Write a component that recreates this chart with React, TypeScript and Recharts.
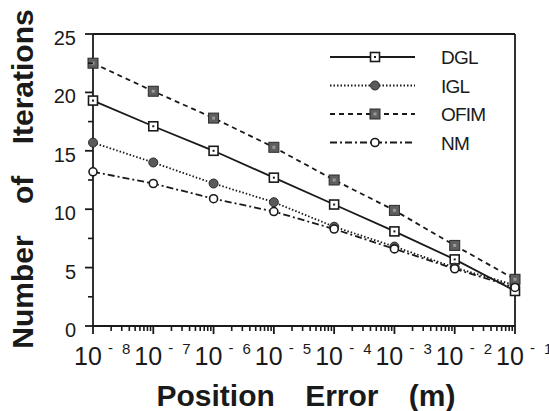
import React from "react";
import { LineChart, Line, XAxis, YAxis, ReferenceLine } from "recharts";

// position error (m), one decade apart
const positionErrors = [1e-8, 1e-7, 1e-6, 1e-5, 1e-4, 1e-3, 1e-2, 1e-1];
const exponentLabels = ["-8", "-7", "-6", "-5", "-4", "-3", "-2", "-1"];

const dglValues = [19.3, 17.1, 15.0, 12.7, 10.4, 8.1, 5.7, 3.0];
const iglValues = [15.7, 14.0, 12.2, 10.6, 8.5, 6.8, 5.0, 3.5];
const ofimValues = [22.5, 20.1, 17.8, 15.3, 12.5, 9.9, 6.9, 4.0];
const nmValues = [13.2, 12.2, 10.9, 9.8, 8.3, 6.6, 4.9, 3.3];

const yTickValues = [0, 2.5, 5, 7.5, 10, 12.5, 15, 17.5, 20, 22.5, 25];

const data = positionErrors.map((err, i) => ({
  err,
  DGL: dglValues[i],
  IGL: iglValues[i],
  OFIM: ofimValues[i],
  NM: nmValues[i],
}));

// decade ticks plus the 2..9 minor ticks in between
const xTickValues: number[] = [];
positionErrors.forEach((p, i) => {
  if (i === positionErrors.length - 1) {
    xTickValues.push(p);
    return;
  }
  for (let k = 1; k <= 9; k++) xTickValues.push(k * p);
});

const FONT = "'Liberation Sans', Arial, Helvetica, sans-serif";
const INK = "#1a1a1a";

const OpenSquare = ({ cx, cy }: any) => (
  <g>
    <rect x={cx - 4.5} y={cy - 4.5} width={9} height={9} fill="#fff" stroke={INK} strokeWidth={1.6} />
    <rect x={cx - 1} y={cy - 1} width={2} height={2} fill={INK} />
  </g>
);
const GreyCircle = ({ cx, cy }: any) => (
  <circle cx={cx} cy={cy} r={4.5} fill="#5a5a5a" stroke="#2a2a2a" strokeWidth={1} />
);
const GreySquare = ({ cx, cy }: any) => (
  <g>
    <rect x={cx - 5} y={cy - 5} width={10} height={10} fill="#5f5f5f" stroke="#2a2a2a" strokeWidth={1} />
    <rect x={cx - 1.5} y={cy - 1.5} width={3} height={3} fill="#999" />
  </g>
);
const OpenCircle = ({ cx, cy }: any) => (
  <circle cx={cx} cy={cy} r={4} fill="#fff" stroke={INK} strokeWidth={1.6} />
);

const seriesList = [
  { key: "DGL", dash: undefined as string | undefined, Marker: OpenSquare },
  { key: "IGL", dash: "1.5 2", Marker: GreyCircle },
  { key: "OFIM", dash: "5 4", Marker: GreySquare },
  { key: "NM", dash: "7 3 2 3", Marker: OpenCircle },
];

const XTick = ({ x, y, payload }: any) => {
  const v = payload.value;
  const e = Math.round(Math.log10(v));
  const major = Math.abs(Math.log10(v) - e) < 1e-6;
  if (!major) {
    return <line x1={x} y1={y} x2={x} y2={y + 5} stroke={INK} strokeWidth={1.6} />;
  }
  const idx = positionErrors.findIndex((p) => Math.abs(Math.log10(p) - e) < 1e-6);
  const exp = exponentLabels[idx];
  return (
    <g fontFamily={FONT} fill={INK}>
      <line x1={x} y1={y} x2={x} y2={y + 8} stroke={INK} strokeWidth={1.8} />
      <text x={x - 19} y={y + 39} fontSize={25}>10</text>
      <text x={x + 15} y={y + 27} fontSize={15}>-</text>
      <text x={x + 29} y={y + 28} fontSize={15}>{exp.replace("-", "")}</text>
    </g>
  );
};

const YTick = ({ x, y, payload }: any) => {
  const v = payload.value;
  const major = v % 5 === 0;
  if (!major) {
    return <line x1={x - 5} y1={y} x2={x} y2={y} stroke={INK} strokeWidth={1.6} />;
  }
  return (
    <g fontFamily={FONT} fill={INK}>
      <line x1={x - 8} y1={y} x2={x} y2={y} stroke={INK} strokeWidth={1.8} />
      <text x={x - 17} y={y + 11} fontSize={20} textAnchor="end">{v}</text>
    </g>
  );
};

const LegendBox = () => (
  <svg width={200} height={130} style={{ position: "absolute", left: 330, top: 40, overflow: "visible" }}>
    {seriesList.map((s, i) => {
      const y = 17 + i * 28.5;
      const { Marker } = s;
      return (
        <g key={s.key}>
          <line x1={0} y1={y} x2={85} y2={y} stroke={INK} strokeWidth={1.8} strokeDasharray={s.dash} />
          <Marker cx={45} cy={y} />
          <text x={111} y={y + 7} fontFamily={FONT} fontSize={19} letterSpacing={-0.8} fill={INK}>
            {s.key}
          </text>
        </g>
      );
    })}
  </svg>
);

export default function App() {
  return (
    <div style={{ position: "absolute", left: 0, top: 0, width: 549, height: 411, background: "#fff" }}>
      <LineChart
        width={549}
        height={411}
        data={data}
        margin={{ top: 34, right: 34, bottom: 35, left: 33 }}
      >
        <XAxis
          dataKey="err"
          type="number"
          scale="log"
          domain={[1e-8, 1e-1]}
          ticks={xTickValues}
          interval={0}
          tick={<XTick />}
          tickLine={false}
          tickSize={0}
          tickMargin={0}
          height={50}
          axisLine={{ stroke: INK, strokeWidth: 1.8 }}
          label={{
            content: () => (
              <text
                x={306}
                y={406}
                textAnchor="middle"
                fontFamily={FONT}
                fontWeight="bold"
                fontSize={30}
                wordSpacing={22}
                fill={INK}
              >
                Position Error (m)
              </text>
            ),
          }}
        />
        <YAxis
          type="number"
          domain={[0, 25]}
          ticks={yTickValues}
          interval={0}
          tick={<YTick />}
          tickLine={false}
          tickSize={0}
          tickMargin={0}
          width={60}
          axisLine={{ stroke: INK, strokeWidth: 1.8 }}
          label={{
            content: () => (
              <text
                transform="translate(33,179) rotate(-90)"
                textAnchor="middle"
                fontFamily={FONT}
                fontWeight="bold"
                fontSize={30}
                wordSpacing={23}
                fill={INK}
              >
                Number of Iterations
              </text>
            ),
          }}
        />
        <ReferenceLine y={25} stroke={INK} strokeWidth={1.8} />
        <ReferenceLine x={1e-1} stroke={INK} strokeWidth={1.8} />
        {seriesList.map((s) => {
          const { Marker } = s;
          return (
            <Line
              key={s.key}
              dataKey={s.key}
              stroke={INK}
              strokeWidth={1.8}
              strokeDasharray={s.dash}
              isAnimationActive={false}
              dot={(p: any) => <Marker key={`${s.key}-${p.index}`} cx={p.cx} cy={p.cy} />}
              activeDot={false}
            />
          );
        })}
      </LineChart>
      <LegendBox />
    </div>
  );
}
